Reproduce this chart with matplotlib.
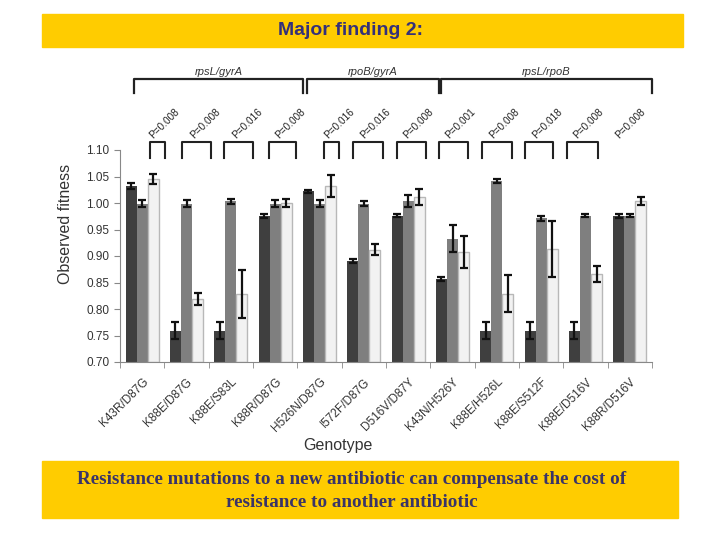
import numpy as np
import matplotlib.pyplot as plt
from matplotlib.patches import Rectangle

genotypes = ["K43R/D87G", "K88E/D87G", "K88E/S83L", "K88R/D87G", "H526N/D87G", "I572F/D87G",
             "D516V/D87Y", "K43N/H526Y", "K88E/H526L", "K88E/S512F", "K88E/D516V", "K88R/D516V"]

dark = [1.032, 0.759, 0.759, 0.975, 1.022, 0.891, 0.976, 0.856, 0.759, 0.759, 0.759, 0.976]
dark_err = [0.005, 0.016, 0.016, 0.004, 0.003, 0.004, 0.003, 0.004, 0.016, 0.016, 0.016, 0.004]
gray = [0.999, 0.999, 1.003, 0.999, 0.999, 0.999, 1.004, 0.933, 1.042, 0.971, 0.976, 0.976]
gray_err = [0.006, 0.006, 0.004, 0.006, 0.006, 0.005, 0.012, 0.025, 0.004, 0.005, 0.003, 0.003]
light = [1.045, 0.819, 0.828, 1.000, 1.032, 0.912, 1.012, 0.907, 0.829, 0.913, 0.866, 1.004]
light_err = [0.009, 0.011, 0.045, 0.008, 0.021, 0.010, 0.015, 0.030, 0.035, 0.053, 0.015, 0.008]

p_labels = ["P=0.008", "P=0.008", "P=0.016", "P=0.008", "P=0.016", "P=0.016",
            "P=0.008", "P=0.001", "P=0.008", "P=0.018", "P=0.008", "P=0.008"]
# left/right ends of the small p-value brackets (in category units)
p_brackets = [(0.18, 0.52), (0.90, 1.55), (1.85, 2.50), (2.86, 3.47), (4.10, 4.44), (4.76, 5.43),
              (5.75, 6.40), (6.70, 7.35), (7.67, 8.34), (8.64, 9.27), (9.58, 10.28)]
p_label_x = [0.27, 1.20, 2.15, 3.12, 4.22, 5.03, 6.00, 6.95, 7.95, 8.92, 9.85, 10.78]

groups = ["rpsL/gyrA", "rpoB/gyrA", "rpsL/rpoB"]
group_spans = [(-0.18, 3.63), (3.72, 6.70), (6.74, 11.49)]

fig = plt.figure(figsize=(7.2, 5.4), dpi=100)
plt.rcParams['font.family'] = ['Liberation Sans', 'DejaVu Sans']

# yellow banners
fig.patches.append(Rectangle((42/720, 1 - 47/540), (683-42)/720, 33/540,
                             transform=fig.transFigure, color="#ffcc00", zorder=0))
fig.patches.append(Rectangle((42/720, 1 - 518/540), (678-42)/720, 57/540,
                             transform=fig.transFigure, color="#ffcc00", zorder=0))
fig.text(350/720, 1 - 31/540, "Major finding 2:", ha="center", va="center",
         fontsize=14, fontweight="bold", color="#34307a")
fig.text(352/720, 1 - 491/540,
         "Resistance mutations to a new antibiotic can compensate the cost of\nresistance to another antibiotic",
         ha="center", va="center", fontsize=13.8, fontweight="bold", color="#3a3468",
         family="Liberation Serif", linespacing=1.45)

ax = fig.add_axes([120/720, 1 - 362/540, (652-120)/720, (362-150)/540])
x = np.arange(len(genotypes))
w = 0.25
ekw = dict(ecolor="#111111", elinewidth=1.6, capsize=3, capthick=1.6)
ax.bar(x - w, np.array(dark) - 0.7, w, bottom=0.7, color="#3f3f3f", yerr=dark_err, error_kw=ekw)
ax.bar(x, np.array(gray) - 0.7, w, bottom=0.7, color="#7f7f7f", yerr=gray_err, error_kw=ekw)
ax.bar(x + w, np.array(light) - 0.7, w, bottom=0.7, color="#f2f2f2", edgecolor="#b8b8b8",
       linewidth=1, yerr=light_err, error_kw=ekw)

ax.set_xlim(-0.5, 11.5)
ax.set_ylim(0.70, 1.10)
ax.set_yticks(np.arange(0.70, 1.101, 0.05))
ax.set_yticklabels(["%.2f" % v for v in np.arange(0.70, 1.101, 0.05)], fontsize=8.5, color="#333333")
ax.set_xticks(x)
ax.set_xticklabels(genotypes, rotation=45, ha="right", rotation_mode="anchor",
                   fontsize=8.5, color="#333333")
ax.set_xticks(np.arange(-0.5, 12, 1), minor=True)
ax.tick_params(axis="x", which="major", length=0, pad=10)
ax.tick_params(axis="x", which="minor", length=4, color="#888888")
ax.tick_params(axis="y", length=4, color="#888888")
for s in ["top", "right"]:
    ax.spines[s].set_visible(False)
for s in ["left", "bottom"]:
    ax.spines[s].set_color("#888888")
ax.set_ylabel("Observed fitness", fontsize=11.5, color="#333333")
ax.yaxis.set_label_coords(-0.089, 0.65)
ax.set_xlabel("Genotype", fontsize=11.5, color="#333333")
ax.xaxis.set_label_coords(0.41, -0.36)

# p-value brackets
for (a, b) in p_brackets:
    ax.plot([a, a, b, b], [1.085, 1.115, 1.115, 1.085], color="#222222", lw=1.5, clip_on=False)
for px, lab in zip(p_label_x, p_labels):
    ax.text(px, 1.119, lab, rotation=45, ha="left", va="bottom", rotation_mode="anchor",
            fontsize=7.2, color="#222222", clip_on=False)

# gene-pair brackets
for (a, b), g in zip(group_spans, groups):
    ax.plot([a, a, b, b], [1.208, 1.234, 1.234, 1.208], color="#222222", lw=1.6, clip_on=False)
    ax.text((a + b) / 2, 1.238, g, ha="center", va="bottom", fontsize=8,
            style="italic", color="#333333", clip_on=False)

fig.savefig("out.png", dpi=100)
